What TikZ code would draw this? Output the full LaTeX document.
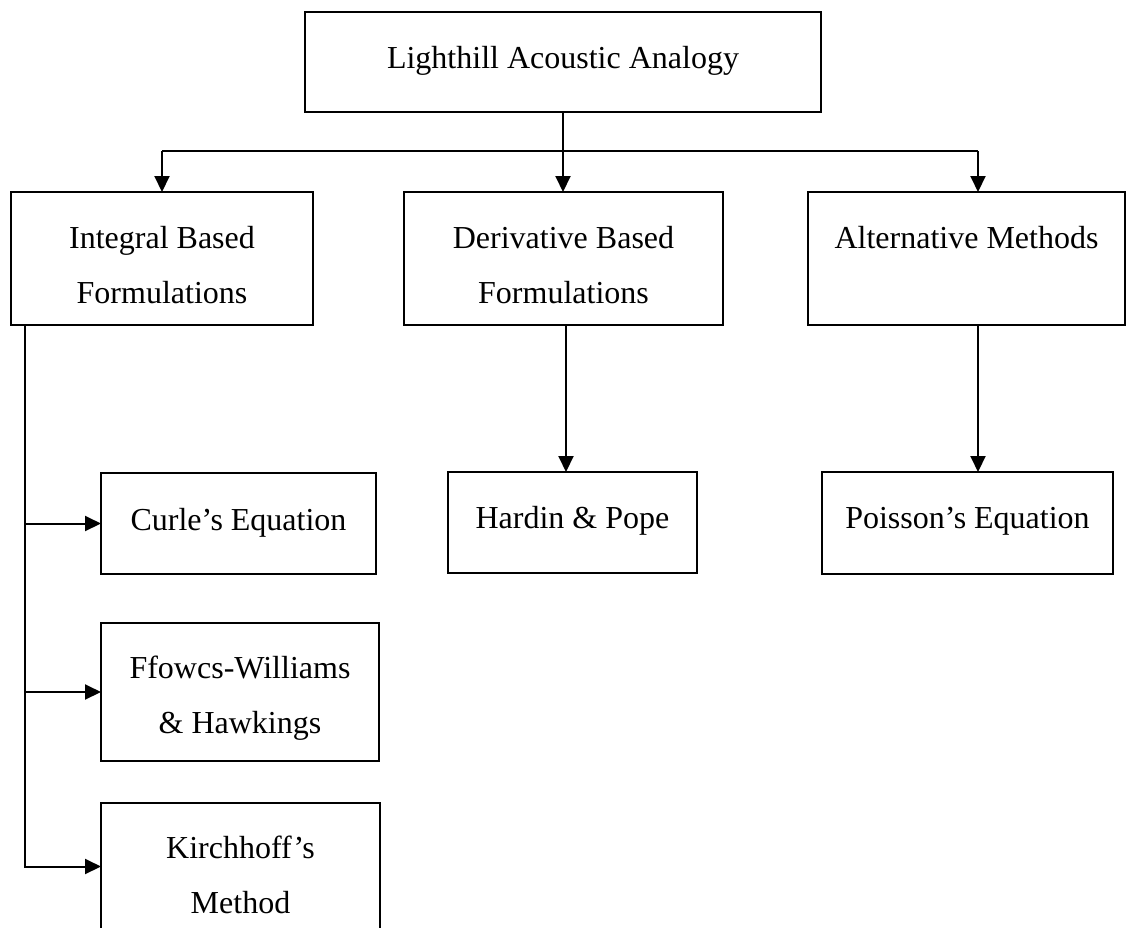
\documentclass[tikz,border=0pt]{standalone}
\usepackage{fontspec}
\setmainfont{Liberation Serif}
\usetikzlibrary{arrows.meta}
\begin{document}
\begin{tikzpicture}[x=1pt,y=-1pt,
  box/.style={draw=black,line width=2pt,rectangle,inner sep=0pt,outer sep=0pt},
  txt/.style={anchor=base,inner sep=0pt,font=\fontsize{32}{38}\selectfont},
  conn/.style={line width=2pt},
  arr/.style={line width=2pt,-{Triangle[length=16pt,width=15pt]}}]
\useasboundingbox (0,0) rectangle (1127,927);
% boxes
\node[box,minimum width=516pt,minimum height=100pt] (top) at (563,62) {};
\node[box,minimum width=302pt,minimum height=133pt] (integral) at (162,258.5) {};
\node[box,minimum width=319pt,minimum height=133pt] (deriv) at (563.5,258.5) {};
\node[box,minimum width=317pt,minimum height=133pt] (alt) at (966.5,258.5) {};
\node[box,minimum width=275pt,minimum height=101pt] (curle) at (238.5,523.5) {};
\node[box,minimum width=249pt,minimum height=101pt] (hardin) at (572.5,522.5) {};
\node[box,minimum width=291pt,minimum height=102pt] (poisson) at (967.5,523) {};
\node[box,minimum width=278pt,minimum height=138pt] (ffowcs) at (240,692) {};
\node[box,minimum width=279pt,minimum height=127pt] (kirch) at (240.5,866.5) {};
% texts
\node[txt] (ttop) at (563,68) {Lighthill Acoustic Analogy};
\node[txt] (tint1) at (162,248) {Integral Based};
\node[txt] (tint2) at (162,303) {Formulations};
\node[txt] (tder1) at (563.5,248) {Derivative Based};
\node[txt] (tder2) at (563.5,303) {Formulations};
\node[txt] (talt) at (966.5,248) {Alternative Methods};
\node[txt] (tcur) at (238.5,530) {Curle’s Equation};
\node[txt] (thar) at (572.5,528) {Hardin \& Pope};
\node[txt] (tpoi) at (967.5,528) {Poisson’s Equation};
\node[txt] (tff1) at (240,678) {Ffowcs-Williams};
\node[txt] (tff2) at (240,733) {\& Hawkings};
\node[txt] (tki1) at (240.5,858) {Kirchhoff’s};
\node[txt] (tki2) at (240.5,913) {Method};
% connectors
\coordinate (jl) at (162,151);
\coordinate (jr) at (978,151);
\coordinate (jm) at (563,151);
\coordinate (dm) at (566,325);
\coordinate (trunk) at (25,866);
\draw[conn] (jl) -- (jr);
\draw[arr] (top.south) -- (jm) -- (jm |- deriv.north);
\draw[arr] (jl) -- (integral.north);
\draw[arr] (jr) -- (jr |- alt.north);
\draw[arr] (dm) -- (dm |- hardin.north);
\draw[arr] (jr |- alt.south) -- (jr |- poisson.north);
\draw[conn] (integral.south -| trunk) -- (trunk |- kirch.west);
\draw[arr] ([xshift=-1pt]trunk |- curle.west) -- (curle.west);
\draw[arr] ([xshift=-1pt]trunk |- ffowcs.west) -- (ffowcs.west);
\draw[arr] ([xshift=-1pt]trunk |- kirch.west) -- (kirch.west);
\end{tikzpicture}
\end{document}
